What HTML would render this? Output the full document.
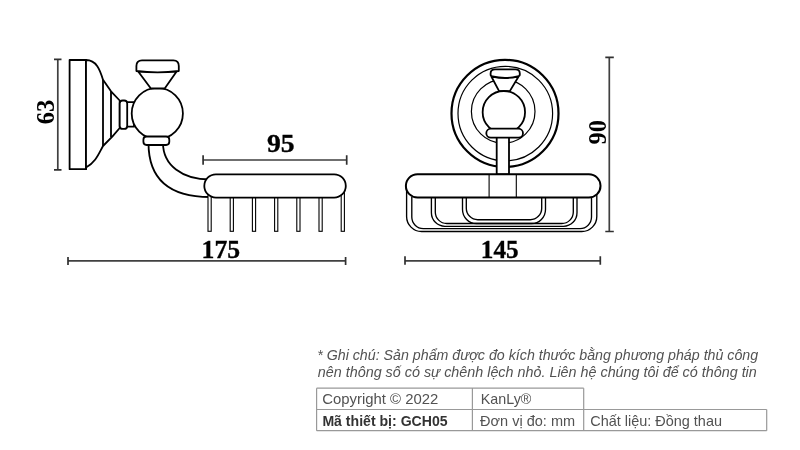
<!DOCTYPE html>
<html><head><meta charset="utf-8">
<style>
html,body{margin:0;padding:0;background:#fff;width:800px;height:450px;overflow:hidden}
svg{position:absolute;left:0;top:0;will-change:transform}
</style></head><body>
<svg width="800" height="450" viewBox="0 0 800 450">
<rect width="800" height="450" fill="#fff"/>
<!-- ===== LEFT VIEW ===== -->
<g fill="none" stroke="#404040" stroke-width="1.7">
  <path d="M57.8,59.3V169.8 M202.8,160H346.7 M68,260.8H345.6"/>
</g>
<g fill="none" stroke="#303030" stroke-width="1.7">
  <path d="M54,59.3H61.5 M54,169.8H61.5 M203.1,155.3V164.7 M346.7,155.3V164.7 M68,257V265 M345.6,257V265"/>
</g>
<g font-family="'Liberation Serif', serif" font-weight="bold" font-size="24.5" fill="#000" stroke="#000" stroke-width="0.3" text-anchor="middle">
  <text transform="translate(54,112) rotate(-90)" stroke-width="0">63</text>
  <text transform="translate(280.8,152.2) scale(1.13,1)">95</text>
  <text transform="translate(220.8,258.2) scale(1.05,1)">175</text>
</g>
<g fill="#fff" stroke="#000" stroke-width="1.8" stroke-linejoin="round">
  <!-- plate -->
  <rect x="69.6" y="60" width="16.4" height="109.2"/>
  <!-- profile -->
  <path d="M86,60 C96.5,60 100,70 103,79.7 L111,91.3 L119.7,100.5 L119.7,128 L112.5,136.3 L103,146 C99,153 96,162 86,167.5 L86,169.2 Z"/>
  <path d="M103,79.7V146 M111,91.3V137" fill="none"/>
  <!-- neck -->
  <rect x="126" y="102.2" width="8" height="24.5"/>
  <!-- collar -->
  <rect x="119.7" y="100.5" width="7.5" height="28.4" rx="3"/>
  <!-- arm -->
  <path d="M148.5,143 C148.5,178 168,197 210,197 L210,179.5 C182,179.5 163,165 163,143 Z"/>
  <!-- ball -->
  <circle cx="157.3" cy="113.5" r="25.6"/>
  <!-- knob -->
  <path d="M138.2,71.5 L150.9,88.5 L164.7,88.5 L176.6,71.5 Z"/>
  <path d="M136.4,71 V66 Q136.4,60.4 142,60.4 H173.4 Q178.8,60.4 178.8,66 V71 Q157.6,73.8 136.4,71 Z"/>
  <!-- ball collar -->
  <rect x="143.4" y="136.5" width="25.9" height="8.5" rx="3.2"/>
</g>
<!-- legs -->
<g fill="#fff" stroke="#000" stroke-width="1.1">
  <rect x="208.0" y="190" width="3.2" height="41.3"/>
  <rect x="230.2" y="190" width="3.2" height="41.3"/>
  <rect x="252.4" y="190" width="3.2" height="41.3"/>
  <rect x="274.6" y="190" width="3.2" height="41.3"/>
  <rect x="296.8" y="190" width="3.2" height="41.3"/>
  <rect x="319.0" y="190" width="3.2" height="41.3"/>
  <rect x="341.2" y="190" width="3.2" height="41.3"/>
</g>
<g fill="#fff" stroke="#000" stroke-width="1.8">
  <rect x="204.3" y="174.3" width="141.5" height="23.3" rx="11.6"/>
</g>


<!-- ===== RIGHT VIEW ===== -->
<g fill="none" stroke="#404040" stroke-width="1.7">
  <path d="M609.3,57.3V231.5 M405,260.8H600.3"/>
</g>
<g fill="none" stroke="#303030" stroke-width="1.7">
  <path d="M605.3,57.3H613.8 M605.3,231.5H613.8 M405,256.3V264.8 M600.3,256.3V264.8"/>
</g>
<g font-family="'Liberation Serif', serif" font-weight="bold" font-size="24.5" fill="#000" stroke="#000" stroke-width="0.3" text-anchor="middle">
  <text transform="translate(606,132.3) rotate(-90)" stroke-width="0">90</text>
  <text transform="translate(499.75,258.2) scale(1.03,1)">145</text>
</g>
<g fill="none" stroke="#000">
  <circle cx="505" cy="113.4" r="53.5" stroke-width="2.2"/>
  <circle cx="505.3" cy="113.6" r="47.3" stroke-width="1.2"/>
  <circle cx="503.2" cy="111.4" r="31.8" stroke-width="1.2"/>
</g>
<g fill="#fff" stroke="#000" stroke-width="1.8" stroke-linejoin="round">
  <rect x="496.7" y="137" width="12.3" height="37.5"/>
  <path d="M491.6,77 L499.1,91.1 L509.8,91.1 L518.3,77 Z"/>
  <path d="M490.6,74.5 V73.5 Q490.6,69.3 495,69.3 H515.5 Q519.8,69.3 519.8,73.5 V74.5 Q519.8,76.3 517.5,76.5 Q505,79.5 492.5,76.5 Q490.6,76.3 490.6,74.5 Z"/>
  <circle cx="503.85" cy="112.2" r="21.2"/>
  <rect x="486.3" y="128.7" width="36.7" height="9" rx="4.5"/>
</g>
<!-- basket -->
<g fill="none" stroke="#000" stroke-width="1.35">
  <path d="M406.6,188.0 V216.5 A15.0,15.0 0 0 0 421.6,231.5 H581.8 A15.0,15.0 0 0 0 596.8,216.5 V188.0"/>
  <path d="M411.8,197.0 V217.1 A11.5,11.5 0 0 0 423.3,228.6 H580.0 A11.5,11.5 0 0 0 591.5,217.1 V197.0"/>
  <path d="M431.4,197.0 V212.8 A13.5,13.5 0 0 0 444.9,226.3 H563.5 A13.5,13.5 0 0 0 577.0,212.8 V197.0"/>
  <path d="M435.3,197.0 V212.0 A11.5,11.5 0 0 0 446.8,223.5 H561.8 A11.5,11.5 0 0 0 573.3,212.0 V197.0"/>
  <path d="M462.5,197.0 V209.5 A14.0,14.0 0 0 0 476.5,223.5 H531.5 A14.0,14.0 0 0 0 545.5,209.5 V197.0"/>
  <path d="M466.3,197.0 V208.2 A11.5,11.5 0 0 0 477.8,219.7 H530.2 A11.5,11.5 0 0 0 541.7,208.2 V197.0"/>
</g>
<g fill="#fff" stroke="#000" stroke-width="2">
  <rect x="405.9" y="174.2" width="194.6" height="23.3" rx="11.6"/>
</g>
<path d="M489.1,175V197 M516.3,175V197" stroke="#000" stroke-width="1.1" fill="none"/>

<!-- ===== NOTES ===== -->
<g font-family="'Liberation Sans', sans-serif" font-style="italic" font-size="14.4" fill="#525252">
  <text x="317.2" y="360.2" textLength="441" lengthAdjust="spacingAndGlyphs">* Ghi chú: Sản phẩm được đo kích thước bằng phương pháp thủ công</text>
  <text x="317.8" y="377.4" textLength="439" lengthAdjust="spacingAndGlyphs">nên thông số có sự chênh lệch nhỏ. Liên hệ chúng tôi để có thông tin</text>
</g>
<g fill="none" stroke="#999" stroke-width="1.2">
  <path d="M316.6,388.2 H583.7 M316.6,409.5 H766.7 M316.6,430.7 H766.7 M316.6,388.2 V430.7 M472.4,388.2 V430.7 M583.7,388.2 V430.7 M766.7,409.4 V430.7"/>
</g>
<g font-family="'Liberation Sans', sans-serif" font-size="14.5" fill="#525252">
  <text x="322.3" y="403.6" textLength="116" lengthAdjust="spacingAndGlyphs">Copyright © 2022</text>
  <text x="480.8" y="403.6" textLength="50.5" lengthAdjust="spacingAndGlyphs">KanLy®</text>
  <text x="322.4" y="426.1" font-weight="bold" fill="#333" textLength="125.2" lengthAdjust="spacingAndGlyphs">Mã thiết bị: GCH05</text>
  <text x="480.1" y="426.1" textLength="95" lengthAdjust="spacingAndGlyphs">Đơn vị đo: mm</text>
  <text x="590.2" y="426.1" textLength="131.8" lengthAdjust="spacingAndGlyphs">Chất liệu: Đồng thau</text>
</g>
</svg>
</body></html>
